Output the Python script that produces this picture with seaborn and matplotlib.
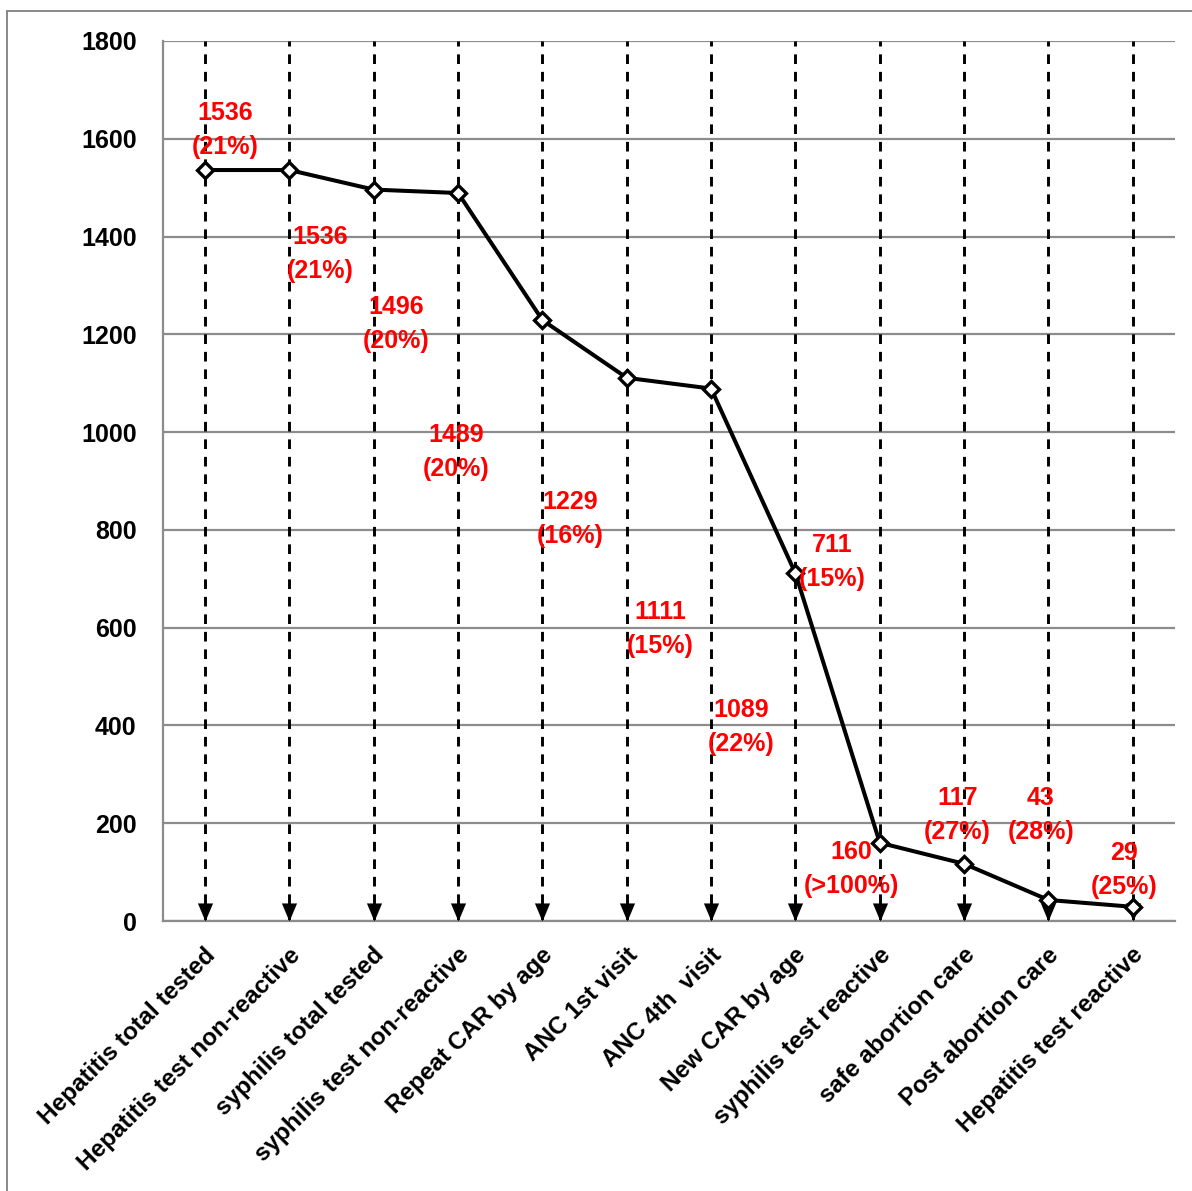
import matplotlib
matplotlib.use("Agg")
import matplotlib.pyplot as plt
import matplotlib.transforms as mtransforms
from matplotlib.path import Path
from matplotlib.lines import Line2D
import numpy as np
import pandas as pd
import seaborn as sns

# Service cascade: counts per step and share labels
steps = [
    "Hepatitis total tested",
    "Hepatitis test non-reactive",
    "syphilis total tested",
    "syphilis test non-reactive",
    "Repeat CAR by age",
    "ANC 1st visit",
    "ANC 4th  visit",
    "New CAR by age",
    "syphilis test reactive",
    "safe abortion care",
    "Post abortion care",
    "Hepatitis test reactive",
]
counts = [1536, 1536, 1496, 1489, 1229, 1111, 1089, 711, 160, 117, 43, 29]
shares = ["21%", "21%", "20%", "20%", "16%", "15%", "22%", "15%",
          ">100%", "27%", "28%", "25%"]

# Label placement relative to each point (category units, value units)
label_dx = [0.24, 0.36, 0.27, -0.02, 0.33, 0.40, 0.36, 0.43, -0.34, -0.08, -0.09, -0.10]
label_dy = [82, -172, -275, -530, -407, -514, -692, 23, -54, 100, 174, 75]

y_ticks = list(range(0, 1801, 200))

sns.set_theme(style="white")
plt.rcParams["font.family"] = ["Liberation Sans", "DejaVu Sans"]
plt.rcParams["font.weight"] = "bold"
plt.rcParams["text.color"] = "black"
plt.rcParams["xtick.color"] = "black"
plt.rcParams["ytick.color"] = "black"

df = pd.DataFrame({"step": steps, "count": counts})

fig = plt.figure(figsize=(11.92, 11.91), dpi=100)
ax = fig.add_axes([0.1367, 0.2267, 0.849, 0.7389])

n = len(steps)
xs = np.arange(n)
ymax = y_ticks[-1]

# Dashed drop lines with arrowheads at the baseline
ax.vlines(xs, 0, ymax, colors="black", linestyles=(0, (3.3, 2.7)), linewidth=2.1, zorder=2)
head = Path([(-0.42, 1.0), (0.42, 1.0), (0.0, 0.0), (-0.42, 1.0)],
            [Path.MOVETO, Path.LINETO, Path.LINETO, Path.CLOSEPOLY])
ax.plot(xs, np.zeros(n), linestyle="none", marker=head, markersize=26,
        color="black", markeredgewidth=0, clip_on=False, zorder=3)

sns.lineplot(data=df, x="step", y="count", sort=False, ax=ax, color="black",
             linewidth=2.9, marker="D", markersize=8.5, markerfacecolor="white",
             markeredgecolor="black", markeredgewidth=2.4, zorder=5)

for i, (c, s) in enumerate(zip(counts, shares)):
    ax.text(i + label_dx[i], c + label_dy[i], f"{c}\n({s})", color="#FF0000",
            fontsize=18, fontweight="bold", ha="center", va="center",
            linespacing=1.5, zorder=6)

ax.set_xlim(-0.5, n - 0.5)
ax.set_ylim(0, ymax)
ax.set_yticks(y_ticks)
ax.set_yticklabels([str(t) for t in y_ticks], fontsize=18, fontweight="bold")
ax.yaxis.grid(True, color="#8c8c8c", linewidth=1.6, zorder=0)
ax.xaxis.grid(False)
ax.tick_params(axis="y", length=0, pad=19)
ax.tick_params(axis="x", length=0, pad=22)
ax.set_xlabel("")
ax.set_ylabel("")

shift = mtransforms.ScaledTranslation(7 / 100, 0, fig.dpi_scale_trans)
for lbl in ax.get_xticklabels():
    lbl.set_rotation(45)
    lbl.set_ha("right")
    lbl.set_va("center")
    lbl.set_rotation_mode("anchor")
    lbl.set_fontsize(17.5)
    lbl.set_fontweight("bold")
    lbl.set_transform(lbl.get_transform() + shift)

for side in ["top", "right"]:
    ax.spines[side].set_visible(False)
for side in ["left", "bottom"]:
    ax.spines[side].set_color("#8c8c8c")
    ax.spines[side].set_linewidth(1.6)

# Outer frame on top and left edges
fig.add_artist(Line2D([7 / 1192, 1.0], [1 - 11 / 1191, 1 - 11 / 1191],
                      transform=fig.transFigure, color="#7f7f7f", linewidth=1.3))
fig.add_artist(Line2D([7 / 1192, 7 / 1192], [0.0, 1 - 11 / 1191],
                      transform=fig.transFigure, color="#7f7f7f", linewidth=1.3))

fig.savefig("out.png", dpi=100)
